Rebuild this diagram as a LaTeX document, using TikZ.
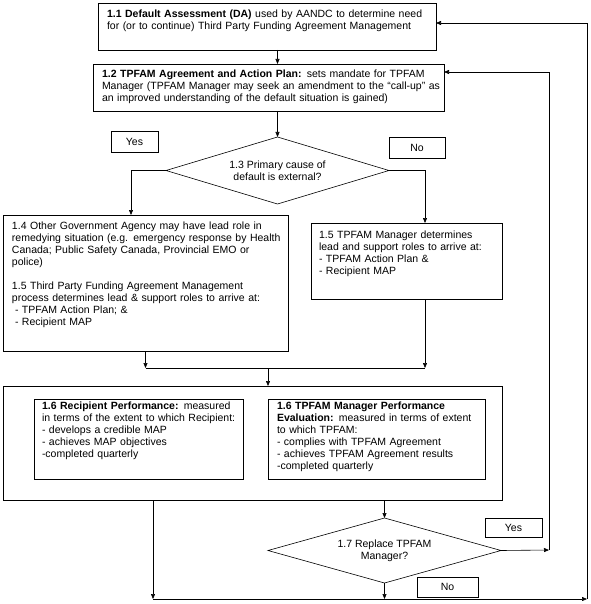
\documentclass[tikz,border=0pt]{standalone}
\usepackage{fontspec}
\setmainfont{Liberation Sans}
\usepackage{tikz}
\usetikzlibrary{arrows.meta,shapes.geometric}

\begin{document}
\begin{tikzpicture}[
    x=1pt, y=-1pt,
    >={Triangle[length=5pt,width=4pt]},
    font=\fontsize{10.5}{12}\selectfont,
    box/.style={draw, rectangle, anchor=north west, inner xsep=9pt, inner ysep=0pt, outer sep=0pt, line width=0.8pt,
        execute at begin node={\rightskip=0pt plus 1fil minus 30pt\linepenalty=1000\relax}},
    frame/.style={draw, rectangle, anchor=north west, inner sep=0pt, outer sep=0pt, line width=0.8pt},
    decision/.style={draw, diamond, align=center, inner sep=0pt, outer sep=0pt, line width=0.6pt},
    answer/.style={draw, rectangle, inner sep=0pt, outer sep=0pt, line width=0.6pt},
    flow/.style={->, line width=0.6pt},
    link/.style={line width=0.6pt}
]
    \useasboundingbox (0,0) rectangle (590,604);

    \node[box, text width=320pt, text height=14.5pt, text depth=32.5pt] (b11) at (98,3)
        {\textbf{1.1 Default Assessment (DA)} used by AANDC to determine need\\
         for (or to continue) Third Party Funding Agreement Management};
    \node[box, text width=333pt, text height=13.7pt, text depth=33.3pt] (b12) at (93,64)
        {\textbf{1.2 TPFAM Agreement and Action Plan:} sets mandate for TPFAM\\
         Manager (TPFAM Manager may seek an amendment to the “call-up” as\\
         an improved understanding of the default situation is gained)};

    \node[decision, aspect=3.33, minimum width=223pt, minimum height=67pt] (d13) at (277.5,170.5)
        {1.3 Primary cause of\\ default is external?};

    \node[box, text width=267pt, text height=14pt, text depth=122pt] (b14) at (3,215)
        {1.4 Other Government Agency may have lead role in\\
         remedying situation (e.g. emergency response by Health\\
         Canada; Public Safety Canada, Provincial EMO or\\
         police)\\[12pt]
         1.5 Third Party Funding Agreement Management\\
         process determines lead \& support roles to arrive at:\\
         \hspace*{3pt}- TPFAM Action Plan; \&\\
         \hspace*{3pt}- Recipient MAP};
    \node[box, inner xsep=8pt, text width=175pt, text height=15pt, text depth=61pt] (b15) at (311,223)
        {1.5 TPFAM Manager determines\\
         lead and support roles to arrive at:\\
         - TPFAM Action Plan \&\\
         - Recipient MAP};

    \node[frame, minimum width=499pt, minimum height=114pt] (b16) at (3,386) {};
    \node[box, inner xsep=8pt, text width=193pt, text height=10pt, text depth=70pt] (b16r) at (34,399)
        {\textbf{1.6 Recipient Performance:} measured\\
         in terms of the extent to which Recipient:\\
         - develops a credible MAP\\
         - achieves MAP objectives\\
         -completed quarterly};
    \node[box, text width=199pt, text height=10pt, text depth=70pt] (b16m) at (268,399)
        {\textbf{1.6 TPFAM Manager Performance}\\
         \textbf{Evaluation:} measured in terms of extent\\
         to which TPFAM:\\
         - complies with TPFAM Agreement\\
         - achieves TPFAM Agreement results\\
         -completed quarterly};

    \node[decision, aspect=3.58, minimum width=233pt, minimum height=65pt] (d17) at (384.5,550.5)
        {1.7 Replace TPFAM\\ Manager?};

    \foreach \name/\x/\y/\w/\h/\txt in {yes13/134.5/141.5/47/21/Yes, no13/417/147.5/56/21/No,
                                        yes17/513.5/527.5/57/19/Yes, no17/447.5/587/61/20/No} {
        \node[answer, minimum width=\w pt, minimum height=\h pt] (\name) at (\x,\y) {\txt};
    }

    \coordinate (merge) at (268,368);
    \coordinate (loop) at (587,599);
    \coordinate (again) at (549,550);

    \draw[flow] (b11.south -| d13.north) -- (b12.north -| d13.north);
    \draw[flow] (b12.south -| d13.north) -- (d13.north);
    \draw[flow] (d13.west) -| ([xshift=-14.5pt]b14.north);
    \draw[flow] (d13.east) -| ([xshift=18.5pt]b15.north);
    \draw[flow] (b14.south) -- (b14.south |- merge);
    \draw[flow] ([xshift=18.5pt]b15.south) -- ([xshift=18.5pt]b15.south |- merge);
    \draw[link] (b14.south |- merge) -- ([xshift=18.5pt]b15.south |- merge);
    \draw[flow] (merge) -- (merge |- b16.north);

    \draw[flow] (d17.north |- b16.south) -- (d17.north);
    \draw[flow] ([xshift=150pt]b16.south west) -- ([xshift=150pt]b16.south west |- loop);
    \draw[flow] (d17.south) -- (d17.south |- loop);
    \draw[flow] ([xshift=150pt]b16.south west |- loop) -- (loop);
    \draw[flow] (loop) |- ([yshift=3.5pt]b11.east);
    \draw[flow] (d17.east) -- (again);
    \draw[flow] (again) |- ([yshift=15.5pt]b12.east);
\end{tikzpicture}
\end{document}
